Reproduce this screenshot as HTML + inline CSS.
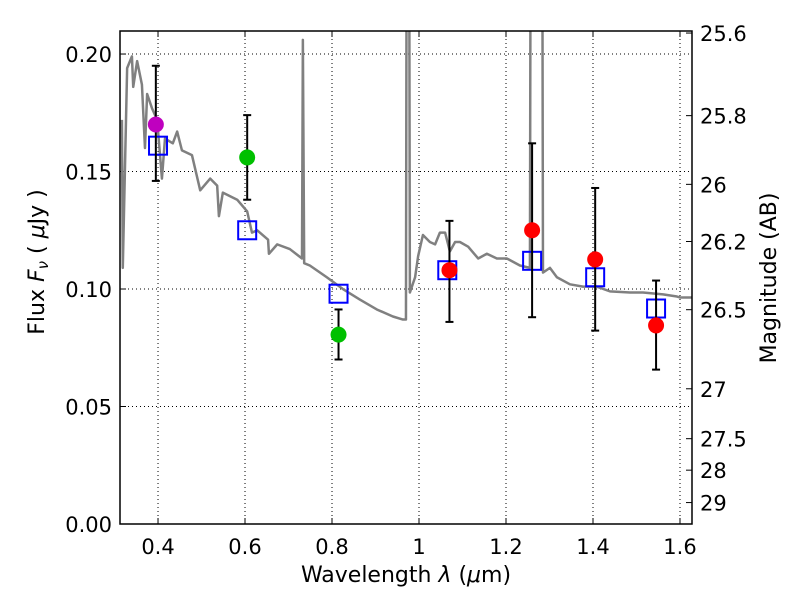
<!DOCTYPE html>
<html><head><meta charset="utf-8"><style>
body{margin:0;background:#fff}
svg text{font-family:"DejaVu Sans","Liberation Sans",sans-serif;fill:#000}
</style></head><body>
<svg id="chart" width="800" height="600" xmlns="http://www.w3.org/2000/svg"></svg>
<script>
const specLam=[0.317,0.319,0.329,0.340,0.343,0.352,0.363,0.370,0.375,0.386,0.398,0.409,0.416,0.434,0.444,0.455,0.478,0.497,0.520,0.536,0.540,0.549,0.582,0.605,0.616,0.628,0.653,0.655,0.674,0.703,0.731,0.733,0.736,0.749,0.788,0.825,0.864,0.903,0.940,0.963,0.970,0.972,0.977,0.979,0.991,0.998,1.009,1.025,1.037,1.048,1.060,1.071,1.083,1.094,1.113,1.136,1.156,1.179,1.202,1.232,1.255,1.257,1.283,1.285,1.301,1.317,1.347,1.377,1.409,1.439,1.485,1.515,1.561,1.593,1.600,1.628];
const specFlux=[0.172,0.109,0.194,0.199,0.186,0.197,0.187,0.160,0.183,0.177,0.172,0.147,0.164,0.162,0.167,0.159,0.157,0.142,0.147,0.144,0.131,0.141,0.138,0.133,0.124,0.125,0.121,0.115,0.119,0.117,0.113,0.206,0.111,0.110,0.105,0.100,0.0955,0.0913,0.0883,0.087,0.087,0.30,0.30,0.0985,0.105,0.114,0.123,0.120,0.119,0.124,0.124,0.116,0.120,0.120,0.118,0.113,0.115,0.113,0.113,0.110,0.109,0.30,0.30,0.107,0.109,0.105,0.102,0.101,0.101,0.099,0.0985,0.0985,0.0977,0.0968,0.0964,0.0964];
const obsLam=[0.395,0.605,0.815,1.07,1.26,1.405,1.545];
const obsFlux=[0.170,0.156,0.0806,0.108,0.125,0.1126,0.0845];
const obsHi=[0.195,0.174,0.0913,0.129,0.162,0.143,0.1036];
const obsLo=[0.146,0.138,0.070,0.086,0.088,0.0823,0.0657];
const obsColor=["#bf00bf","#00c000","#00c000","#ff0000","#ff0000","#ff0000","#ff0000"];
const modelLam=[0.400,0.605,0.815,1.065,1.26,1.405,1.545];
const modelFlux=[0.161,0.125,0.098,0.108,0.112,0.105,0.0917];
const xTicks=[0.4,0.6,0.8,1.0,1.2,1.4,1.6];
const xTickLabels=["0.4","0.6","0.8","1","1.2","1.4","1.6"];
const yTicks=[0,0.05,0.10,0.15,0.20];
const yTickLabels=["0.00","0.05","0.10","0.15","0.20"];
const magTicks=[25.6,25.8,26,26.2,26.5,27,27.5,28,29];
const magTickLabels=["25.6","25.8","26","26.2","26.5","27","27.5","28","29"];

const L=120,R=692,T=31,B=524,xmin=0.3126,xmax=1.6276,ymin=0,ymax=0.2098;
const sx=v=>L+(v-xmin)/(xmax-xmin)*(R-L);
const sy=v=>B-(v-ymin)/(ymax-ymin)*(B-T);
const NS="http://www.w3.org/2000/svg";
const svg=document.getElementById('chart');
function mk(tag,attrs,parent){const e=document.createElementNS(NS,tag);for(const k in attrs)e.setAttribute(k,attrs[k]);(parent||svg).appendChild(e);return e;}
const defs=mk('defs',{});const cp=mk('clipPath',{id:'clip'},defs);mk('rect',{x:L,y:T,width:R-L,height:B-T},cp);

xTicks.forEach((v,i)=>{const x=sx(v);
 const g=mk('line',{x1:x,x2:x,y1:T,y2:B,stroke:'#000','stroke-dasharray':'1,3','stroke-width':1});
 
 mk('line',{x1:x,x2:x,y1:B,y2:B-6,stroke:'#000'});mk('line',{x1:x,x2:x,y1:T,y2:T+6,stroke:'#000'});
 const t=mk('text',{x:x,y:B+30,'font-size':21,'text-anchor':'middle'});t.textContent=xTickLabels[i];
 });
yTicks.forEach((v,i)=>{const y=sy(v);
 const g=mk('line',{x1:L,x2:R,y1:y,y2:y,stroke:'#000','stroke-dasharray':'1,3','stroke-width':1});
 
 mk('line',{x1:L,x2:L+6,y1:y,y2:y,stroke:'#000'});
 const t=mk('text',{x:L-8,y:y+8,'font-size':21,'text-anchor':'end'});t.textContent=yTickLabels[i];
 });
magTicks.forEach((m,i)=>{const f=Math.pow(10,(23.9-m)/2.5);const y=sy(f);
 mk('line',{x1:R,x2:R-6,y1:y,y2:y,stroke:'#000'});
 const t=mk('text',{x:R+8,y:y+8,'font-size':21});t.textContent=magTickLabels[i];
 });

const sp=mk('polyline',{points:specLam.map((l,i)=>sx(l)+','+sy(specFlux[i])).join(' '),fill:'none',stroke:'#808080','stroke-width':2.5,'clip-path':'url(#clip)','stroke-linejoin':'round'});


modelLam.forEach((l,i)=>{const r=mk('rect',{x:sx(l)-9,y:sy(modelFlux[i])-9,width:18,height:18,fill:'none',stroke:'#0000ff','stroke-width':2});
 });
obsLam.forEach((l,i)=>{const x=sx(l);
 const e=mk('line',{x1:x,x2:x,y1:sy(obsHi[i]),y2:sy(obsLo[i]),stroke:'#000','stroke-width':2});
 
 mk('line',{x1:x-4,x2:x+4,y1:sy(obsHi[i]),y2:sy(obsHi[i]),stroke:'#000','stroke-width':2});
 mk('line',{x1:x-4,x2:x+4,y1:sy(obsLo[i]),y2:sy(obsLo[i]),stroke:'#000','stroke-width':2});
 const c=mk('circle',{cx:x,cy:sy(obsFlux[i]),r:8,fill:obsColor[i]});
 });

const fr=mk('rect',{x:L,y:T,width:R-L,height:B-T,fill:'none',stroke:'#000','stroke-width':1.5});


const xt=mk('text',{x:406,y:582,'font-size':22,'text-anchor':'middle'});
xt.innerHTML='Wavelength  <tspan font-style="italic">λ</tspan> (<tspan font-style="italic">μ</tspan>m)';

const yt=mk('text',{x:0,y:0,'font-size':22,'text-anchor':'middle',transform:'translate(44,262) rotate(-90)','xml:space':'preserve'});
yt.innerHTML='Flux  <tspan font-style="italic">F</tspan><tspan font-style="italic" font-size="15" dy="4">ν</tspan><tspan dy="-4">   (  </tspan><tspan font-style="italic">μ</tspan>Jy )';

const rt=mk('text',{x:0,y:0,'font-size':22,'text-anchor':'middle',transform:'translate(776,278) rotate(-90)'});
rt.textContent='Magnitude (AB)';

</script>
</body></html>
